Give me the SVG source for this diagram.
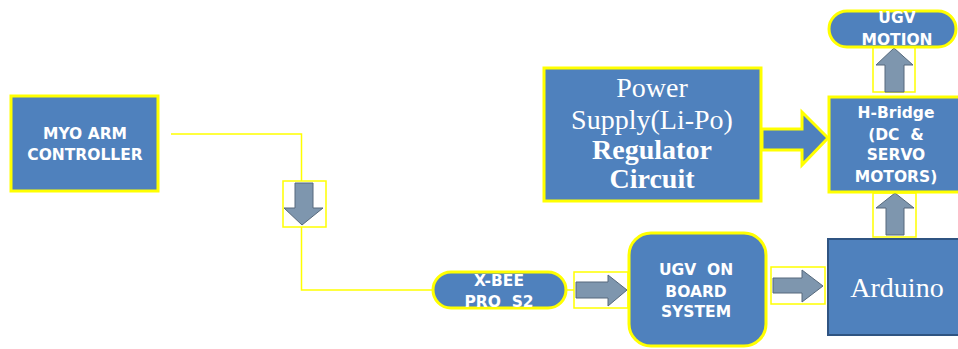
<svg xmlns="http://www.w3.org/2000/svg" width="958" height="349" viewBox="0 0 958 349">
<style>
.box{fill:#4f81bd;stroke:#ffff00;stroke-width:3}
.abox{fill:none;stroke:#ffff00;stroke-width:1.5}
.garrow{fill:#7e96ae;stroke:#56697c;stroke-width:1}
.wire{fill:none;stroke:#ffff00;stroke-width:1.5}
.sans{font-family:"DejaVu Sans","Liberation Sans",sans-serif;font-weight:bold;font-size:15.5px;fill:#ffffff;text-anchor:middle}
.serif{font-family:"Liberation Serif","Times New Roman",serif;font-size:28px;fill:#ffffff;text-anchor:middle}
</style>
<rect width="958" height="349" fill="#ffffff"/>
<g id="connectors">
<polyline class="wire" points="171,134 301.5,134 301.5,181"/>
<polyline class="wire" points="301.5,227 301.5,290 432,290"/>
<line class="wire" x1="567" y1="290" x2="574" y2="290"/>
<rect class="abox" x="283" y="181" width="43" height="46"/>
<path class="garrow" d="M295,183 H313 V208 H323 L302,225 L284,208 H295 Z"/>
<rect class="abox" x="574" y="272" width="54" height="36"/>
<path class="garrow" d="M576,282 H608 V275 L627,290 L608,306 V298 H576 Z"/>
<rect class="abox" x="771" y="267" width="54" height="37"/>
<path class="garrow" d="M773,278 H802 V270 L823,286 L802,302 V293 H773 Z"/>
<rect class="abox" x="873" y="193" width="43" height="44"/>
<path class="garrow" d="M886,235 V208 H876 L895,193 L914,208 H904 V235 Z"/>
<rect class="abox" x="873" y="47" width="42" height="45"/>
<path class="garrow" d="M885,92 V65 H876 L894,48 L913,65 H904 V92 Z"/>
<path d="M762,129 H802 V112 L828,138 L802,165 V150 H762 Z" fill="#4f81bd" stroke="#ffff00" stroke-width="3" stroke-linejoin="miter"/>
</g>
<g id="myo">
<rect class="box" x="11" y="96" width="147" height="95"/>
<text class="sans" x="85" y="139">MYO ARM</text>
<text class="sans" x="85" y="160">CONTROLLER</text>
</g>
<g id="xbee">
<rect class="box" x="433" y="272" width="133" height="36" rx="18"/>
<text class="sans" x="499" y="286">X-BEE</text>
<text class="sans" x="499" y="307" xml:space="preserve">PRO  S2</text>
</g>
<g id="ugv-onboard">
<rect class="box" x="629" y="233" width="137" height="113" rx="22"/>
<text class="sans" x="696" y="275" xml:space="preserve">UGV  ON</text>
<text class="sans" x="696" y="296.5">BOARD</text>
<text class="sans" x="696" y="317">SYSTEM</text>
</g>
<g id="arduino">
<rect x="828" y="239" width="140" height="96" fill="#4f81bd" stroke="#2f5482" stroke-width="2"/>
<text class="serif" x="897" y="297">Arduino</text>
</g>
<g id="power">
<rect class="box" x="544" y="68" width="217" height="133"/>
<text class="serif" x="652" y="97">Power</text>
<text class="serif" x="652" y="129">Supply(Li-Po)</text>
<text class="serif" x="652" y="159" font-weight="bold">Regulator</text>
<text class="serif" x="652" y="188" font-weight="bold">Circuit</text>
</g>
<g id="hbridge">
<rect class="box" x="829" y="97" width="140" height="95"/>
<text class="sans" x="896" y="118">H-Bridge</text>
<text class="sans" x="896" y="140" xml:space="preserve">(DC  &amp;</text>
<text class="sans" x="896" y="160">SERVO</text>
<text class="sans" x="896" y="182">MOTORS)</text>
</g>
<g id="ugv-motion">
<rect class="box" x="829" y="11" width="127" height="36" rx="18"/>
<text class="sans" x="897" y="23">UGV</text>
<text class="sans" x="897" y="45">MOTION</text>
</g>
</svg>
